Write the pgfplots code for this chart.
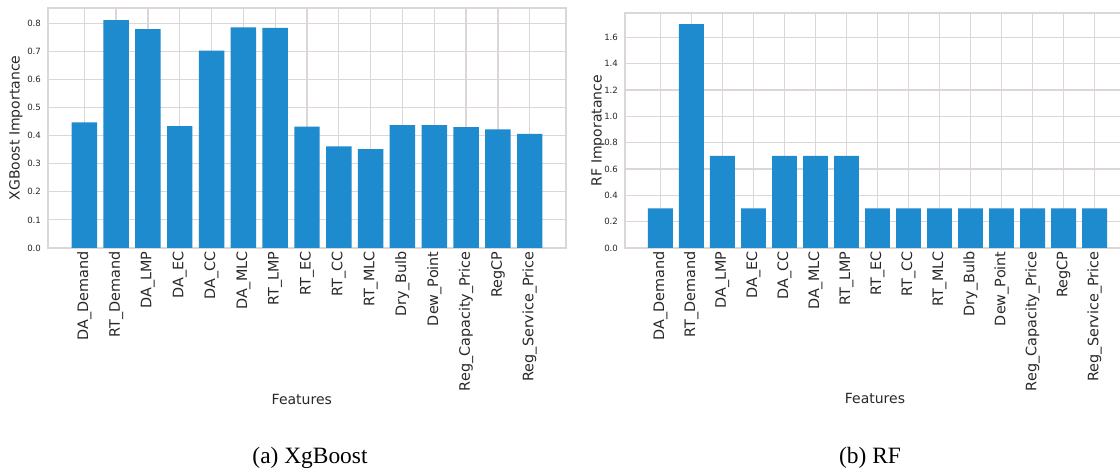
\documentclass[border=0pt]{standalone}
\usepackage{pgfplots}
\pgfplotsset{compat=1.18}
\usepackage{fontspec}
\setmainfont{Liberation Serif}
\newfontfamily\dejavu{DejaVu Sans}
\definecolor{barblue}{RGB}{31,139,207}
\definecolor{gridgray}{RGB}{220,214,214}
\definecolor{txtgray}{RGB}{40,40,40}
\pgfplotsset{
  feat/.style={
    scale only axis,
    anchor=south west,
    ybar,
    bar width=0.8,
    xmin=-1.14, xmax=15.14,
    ymin=0,
    xtick={0,...,14},
    xticklabels={DA\_Demand,RT\_Demand,DA\_LMP,DA\_EC,DA\_CC,DA\_MLC,RT\_LMP,RT\_EC,RT\_CC,RT\_MLC,Dry\_Bulb,Dew\_Point,Reg\_Capacity\_Price,RegCP,Reg\_Service\_Price},
    xticklabel style={rotate=90, anchor=east, font=\dejavu\fontsize{7.2}{8}\selectfont, text=txtgray, inner sep=1.5pt},
    yticklabel style={font=\dejavu\fontsize{4.3}{5}\selectfont, text=txtgray},
    /pgf/number format/assume math mode=true,
    /pgf/number format/.cd, fixed, fixed zerofill, precision=1, /pgfplots/.cd,
    major tick length=0pt,
    grid=major,
    major grid style={color=gridgray, line width=0.6pt},
    axis line style={color=gridgray, line width=0.6pt},
    label style={font=\dejavu\fontsize{7}{8}\selectfont, text=txtgray},
    xlabel={Features},
  }
}
\begin{document}
\begin{tikzpicture}
\useasboundingbox (0,0) rectangle (560pt,235pt);
\begin{axis}[feat,
  at={(24pt,111pt)}, width=259pt, height=120pt,
  ymax=0.854, ytick={0,0.1,...,0.8},
  ylabel={XGBoost Importance},
  ylabel style={at={(axis description cs:-0.062,0.5)}, anchor=center},
  xlabel style={at={(axis description cs:0.49,-0.63)}, anchor=center},
]
\addplot[fill=barblue, draw=none] coordinates {
(0,0.447) (1,0.811) (2,0.779) (3,0.434) (4,0.702) (5,0.785) (6,0.783) (7,0.432)
(8,0.362) (9,0.352) (10,0.437) (11,0.437) (12,0.430) (13,0.422) (14,0.406)};
\end{axis}
\begin{axis}[feat,
  at={(312.5pt,111pt)}, width=252.5pt, height=117.5pt,
  ymax=1.785, ytick={0,0.2,...,1.6},
  ylabel={RF Imporatance},
  ylabel style={at={(axis description cs:-0.0535,0.5)}, anchor=center},
  xlabel style={at={(axis description cs:0.495,-0.64)}, anchor=center},
]
\addplot[fill=barblue, draw=none] coordinates {
(0,0.3) (1,1.7) (2,0.7) (3,0.3) (4,0.7) (5,0.7) (6,0.7) (7,0.3)
(8,0.3) (9,0.3) (10,0.3) (11,0.3) (12,0.3) (13,0.3) (14,0.3)};
\end{axis}
\node[font=\fontsize{11.7}{13}\selectfont] at (155pt,6pt) {(a) XgBoost};
\node[font=\fontsize{11.7}{13}\selectfont] at (435pt,6pt) {(b) RF};
\end{tikzpicture}
\end{document}
